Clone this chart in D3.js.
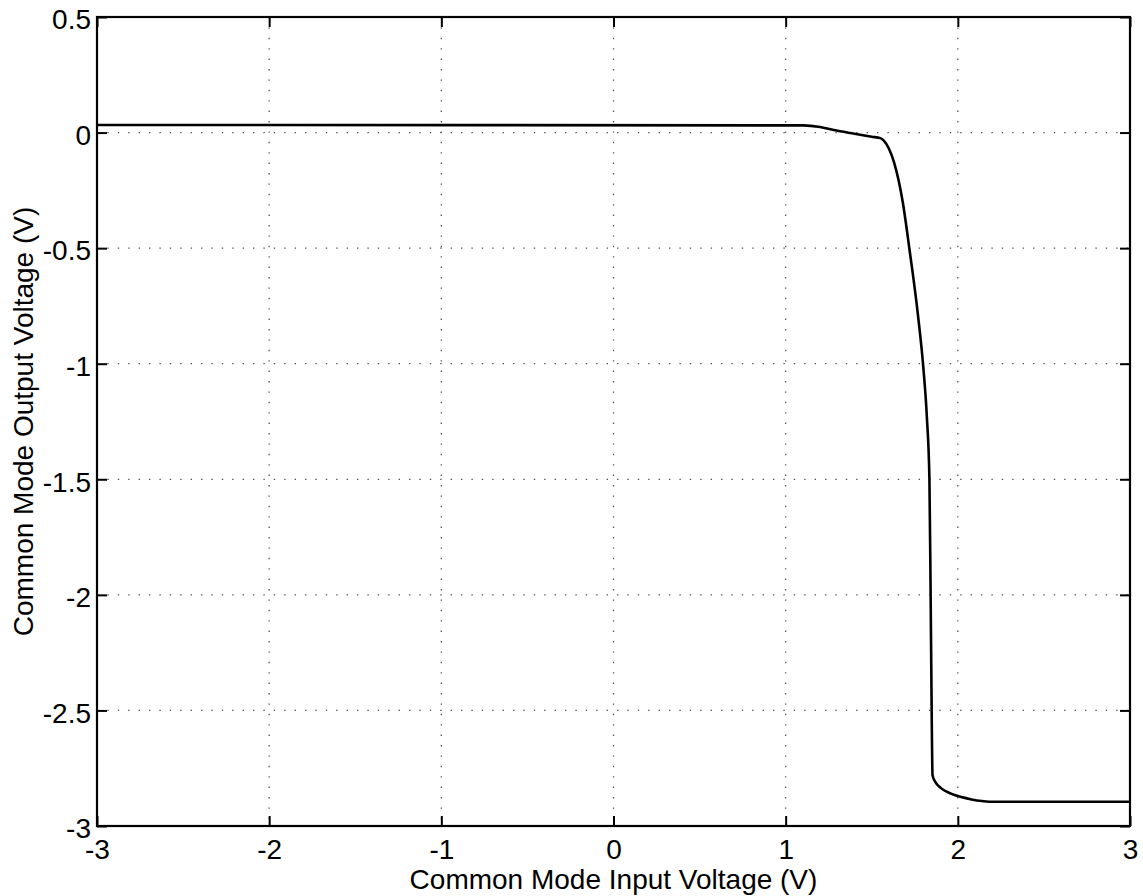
<!DOCTYPE html>
<html>
<head>
<meta charset="utf-8">
<script src="https://cdn.jsdelivr.net/npm/d3@7"></script>
<style>
  html, body { margin: 0; padding: 0; background: #fff; }
  svg { display: block; }
  text { font-family: "Liberation Sans", Arial, Helvetica, sans-serif; fill: #000; }
</style>
</head>
<body>
<svg id="chart" width="1143" height="896"></svg>
<script>
// Common mode transfer curve: input voltage (V) vs output voltage (V)
const inputVoltage = [-3, 1.1, 1.2, 1.28, 1.4, 1.5, 1.55, 1.57, 1.6, 1.63, 1.68, 1.72, 1.77, 1.80, 1.82, 1.835, 1.842, 1.848, 1.853, 1.87, 1.9, 1.96, 2.02, 2.08, 2.14, 2.18, 3];
const outputVoltage = [0.033, 0.031, 0.024, 0.011, -0.005, -0.018, -0.024, -0.035, -0.07, -0.13, -0.30, -0.51, -0.80, -1.02, -1.23, -1.5, -2.0, -2.5, -2.78, -2.81, -2.835, -2.86, -2.875, -2.885, -2.892, -2.895, -2.895];

const xTicks = [-3, -2, -1, 0, 1, 2, 3];
const yTicks = [0.5, 0, -0.5, -1, -1.5, -2, -2.5, -3];

const xLabel = "Common Mode Input Voltage (V)";
const yLabel = "Common Mode Output Voltage (V)";

const svg = d3.select("#chart");
const margin = { left: 97, top: 17, right: 1130, bottom: 826 };

const x = d3.scaleLinear().domain([-3, 3]).range([margin.left, margin.right]);
const y = d3.scaleLinear().domain([-3, 0.5]).range([margin.bottom, margin.top]);

const fontSize = 28;
const tickLen = 10;
// plain hyphen-minus for negative tick labels
const fmt = d => String(d);

// Dotted grid
const grid = svg.append("g")
  .attr("stroke", "#555")
  .attr("stroke-width", 1.3)
  .attr("stroke-dasharray", "1.4,9");
grid.selectAll("line.v").data(xTicks.slice(1, -1)).join("line")
  .attr("class", "v")
  .attr("x1", d => x(d)).attr("x2", d => x(d))
  .attr("y1", margin.top).attr("y2", margin.bottom);
grid.selectAll("line.h").data(yTicks.slice(1, -1)).join("line")
  .attr("class", "h")
  .attr("y1", d => y(d)).attr("y2", d => y(d))
  .attr("x1", margin.left).attr("x2", margin.right);

// Axes with inward ticks
const xAxisBottom = d3.axisBottom(x).tickValues(xTicks).tickSize(-tickLen).tickPadding(13).tickFormat(fmt);
const xAxisTop = d3.axisTop(x).tickValues(xTicks).tickSize(-tickLen).tickFormat("");
const yAxisLeft = d3.axisLeft(y).tickValues(yTicks).tickSize(-tickLen).tickPadding(6).tickFormat(fmt);
const yAxisRight = d3.axisRight(y).tickValues(yTicks).tickSize(-tickLen).tickFormat("");

function styleAxis(g) {
  g.select(".domain").remove();
  g.selectAll(".tick line").attr("stroke", "#000").attr("stroke-width", 2);
  g.selectAll(".tick text")
    .attr("font-size", fontSize)
    .attr("font-family", "'Liberation Sans', Arial, Helvetica, sans-serif")
    .attr("fill", "#000");
}

svg.append("g").attr("transform", `translate(0,${margin.bottom})`).call(xAxisBottom).call(styleAxis)
  .selectAll(".tick text").attr("dy", "0.71em");
svg.append("g").attr("transform", `translate(0,${margin.top})`).call(xAxisTop).call(styleAxis);
svg.append("g").attr("transform", `translate(${margin.left},0)`).call(yAxisLeft).call(styleAxis)
  .selectAll(".tick text").attr("dy", "0.42em");
svg.append("g").attr("transform", `translate(${margin.right},0)`).call(yAxisRight).call(styleAxis);

// Frame
svg.append("rect")
  .attr("x", margin.left).attr("y", margin.top)
  .attr("width", margin.right - margin.left)
  .attr("height", margin.bottom - margin.top)
  .attr("fill", "none").attr("stroke", "#000").attr("stroke-width", 2.2);

// Transfer curve
const pts = inputVoltage.map((v, i) => [v, outputVoltage[i]]);
const line = d3.line().x(d => x(d[0])).y(d => y(d[1])).curve(d3.curveMonotoneX);
svg.append("path")
  .datum(pts)
  .attr("d", line)
  .attr("fill", "none")
  .attr("stroke", "#000")
  .attr("stroke-width", 2.6)
  .attr("stroke-linejoin", "round");

// Axis titles
svg.append("text")
  .attr("x", (margin.left + margin.right) / 2)
  .attr("y", 889)
  .attr("text-anchor", "middle")
  .attr("font-size", fontSize)
  .text(xLabel);

svg.append("text")
  .attr("transform", `translate(33,${(margin.top + margin.bottom) / 2}) rotate(-90)`)
  .attr("text-anchor", "middle")
  .attr("font-size", fontSize)
  .text(yLabel);
</script>
</body>
</html>
